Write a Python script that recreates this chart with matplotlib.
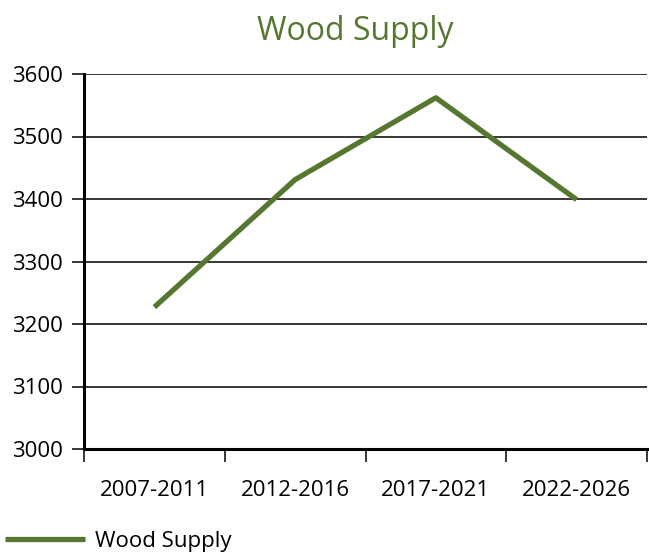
import matplotlib.pyplot as plt

plt.rcParams['font.family'] = ['Open Sans', 'DejaVu Sans']

periods = ['2007-2011', '2012-2016', '2017-2021', '2022-2026']
supply = [3227, 3431, 3562, 3399]

green = '#55772f'

fig = plt.figure(figsize=(6.49, 5.58), dpi=100)
ax = fig.add_axes([84 / 649, 1 - 449 / 558, 563 / 649, 375 / 558])

ax.plot(range(len(periods)), supply, color=green, lw=3.8, solid_capstyle='butt',
        label='Wood Supply')

ax.set_xlim(-0.5, len(periods) - 0.5)
ax.set_ylim(3000, 3600)
ax.set_yticks(range(3000, 3601, 100))
ax.yaxis.grid(True, color='black', lw=1.1)
ax.set_axisbelow(True)

# category labels centred, tick marks between categories
ax.set_xticks(range(len(periods)))
ax.set_xticklabels(periods)
ax.set_xticks([i - 0.5 for i in range(len(periods) + 1)], minor=True)
ax.tick_params(axis='x', which='major', length=0, pad=22, labelsize=16)
ax.tick_params(axis='x', which='minor', length=9, width=1.1, direction='out')
ax.tick_params(axis='y', length=9, width=1.1, pad=6, labelsize=16)

for side in ('top', 'right'):
    ax.spines[side].set_visible(False)
ax.spines['left'].set_linewidth(2.2)
ax.spines['bottom'].set_linewidth(2.2)

fig.text(0.548, 0.944, 'Wood Supply', color=green, fontsize=23,
         ha='center', va='center')

fig.legend(loc='center left', bbox_to_anchor=(5 / 649, 17 / 558), frameon=False,
           fontsize=16, handlelength=3.6, handletextpad=0.45,
           borderpad=0, borderaxespad=0)

fig.savefig('out.png')
